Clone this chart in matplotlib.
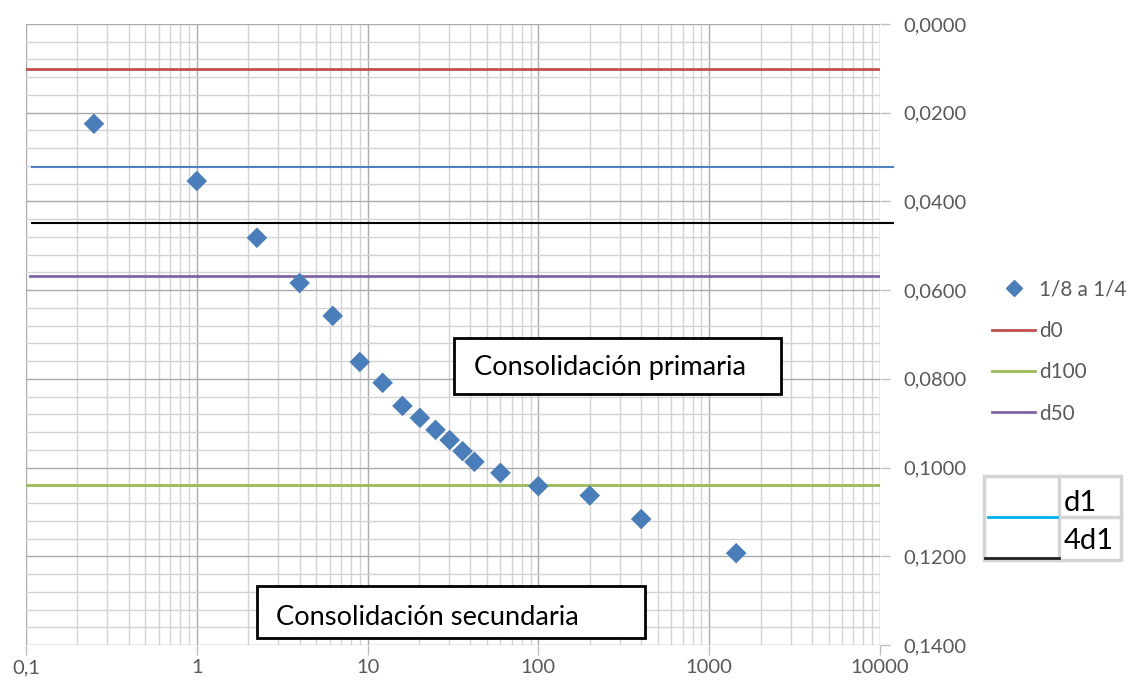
import matplotlib.pyplot as plt
from matplotlib.lines import Line2D
from matplotlib.patches import Rectangle
from matplotlib.ticker import FixedLocator, FuncFormatter, LogLocator, MultipleLocator, NullFormatter

plt.rcParams['font.family'] = ['Lato', 'DejaVu Sans']

# Lectura de deformación vs. tiempo (escala log)
tiempo = [0.25, 1, 2.25, 4, 6.25, 9, 12.25, 16, 20.25, 25, 30.25, 36, 42.25,
          60, 100, 200, 400, 1440]
deformacion = [0.0225, 0.0354, 0.0482, 0.0584, 0.0658, 0.0762, 0.0809, 0.0861,
               0.0888, 0.0915, 0.0938, 0.0963, 0.0987, 0.1012, 0.1042, 0.1063,
               0.1116, 0.1193]

# Lecturas de referencia
d0 = 0.0101
d1 = 0.0322
d4d1 = 0.0449
d50 = 0.0568
d100 = 0.1039

x_ticks = [0.1, 1, 10, 100, 1000, 10000]
x_labels = ['0,1', '1', '10', '100', '1000', '10000']

fig = plt.figure(figsize=(11.31, 6.85), dpi=100)
ax = fig.add_axes([0.023, 0.0584, 0.755, 0.9066])

ax.set_xscale('log')
ax.set_xlim(0.1, 10000)
ax.set_ylim(0.14, 0.0)

ax.xaxis.set_major_locator(FixedLocator(x_ticks))
ax.xaxis.set_major_formatter(FuncFormatter(lambda v, p: x_labels[x_ticks.index(v)] if v in x_ticks else ''))
ax.xaxis.set_minor_locator(LogLocator(base=10, subs=range(2, 10), numticks=20))
ax.xaxis.set_minor_formatter(NullFormatter())

ax.yaxis.set_major_locator(MultipleLocator(0.02))
ax.yaxis.set_minor_locator(MultipleLocator(0.004))
ax.yaxis.set_major_formatter(FuncFormatter(lambda v, p: f'{v:.4f}'.replace('.', ',')))
ax.yaxis.tick_right()

ax.grid(which='major', color='#ababab', linewidth=1.0)
ax.grid(which='minor', color='#d3d3d3', linewidth=1.0)
ax.set_axisbelow(True)

for s in ax.spines.values():
    s.set_visible(False)

ax.tick_params(axis='both', which='major', colors='#bfbfbf', labelcolor='#595959',
               labelsize=14.5, length=7, width=1)
ax.tick_params(axis='both', which='minor', length=0)
ax.tick_params(axis='y', pad=10)
ax.tick_params(axis='x', pad=3)

# Lineas de referencia
ax.axhline(d0, color='#c0504d', linewidth=2, label='d0')
ax.axhline(d100, color='#9bbb59', linewidth=2, label='d100')
ax.axhline(d50, color='#8064a2', linewidth=2, xmin=0.005, label='d50')
ax.axhline(d1, color='#4f81bd', linewidth=1.5, xmin=0.007, xmax=1.015, clip_on=False)
ax.axhline(d4d1, color='black', linewidth=1.5, xmin=0.007, xmax=1.015, clip_on=False)

ax.scatter(tiempo, deformacion, marker='D', s=110, color='#4a7ebb', zorder=5,
           edgecolors='none', label='1/8 a 1/4')

# Cuadros de texto (x en fracción del eje, y en datos)
trans = ax.get_yaxis_transform()
ax.add_patch(Rectangle((0.5012, 0.07079), 0.3829, 0.01262, transform=trans,
                       facecolor='white', edgecolor='black', linewidth=2, zorder=6))
ax.text(0.5246, 0.07913, 'Consolidación primaria', fontsize=19.6, color='black',
        va='baseline', ha='left', zorder=7, transform=trans)
ax.add_patch(Rectangle((0.2705, 0.1267), 0.4543, 0.01172, transform=trans,
                       facecolor='white', edgecolor='black', linewidth=2, zorder=6))
ax.text(0.2927, 0.13549, 'Consolidación secundaria', fontsize=19.6, color='black',
        va='baseline', ha='left', zorder=7, transform=trans)

# Leyenda
handles = [
    Line2D([], [], marker='D', linestyle='none', color='#4a7ebb', markersize=8),
    Line2D([], [], color='#c0504d', linewidth=2),
    Line2D([], [], color='#9bbb59', linewidth=2),
    Line2D([], [], color='#8064a2', linewidth=2),
]
fig.legend(handles, ['1/8 a 1/4', 'd0', 'd100', 'd50'], loc='upper left',
           bbox_to_anchor=(0.8605, 0.619), frameon=False, fontsize=14.9,
           labelcolor='#595959', handlelength=2.1, handletextpad=0.2,
           labelspacing=1.03)

# Tabla d1 / 4d1
W, H = 1131, 685
def fx(px):
    return px / W
def fy(py):
    return 1 - py / H

fig.patches.append(Rectangle((fx(984), fy(560)), fx(137), 84 / H, transform=fig.transFigure,
                             facecolor='white', edgecolor='#d4d4d4', linewidth=2.5))
fig.add_artist(Line2D([fx(1059), fx(1059)], [fy(560), fy(476)], color='#d4d4d4', linewidth=2.5))
fig.add_artist(Line2D([fx(1059), fx(1121)], [fy(517), fy(517)], color='#d4d4d4', linewidth=2.5))
fig.add_artist(Line2D([fx(988), fx(1057)], [fy(517), fy(517)], color='#00b0f0', linewidth=2))
fig.add_artist(Line2D([fx(985), fx(1059)], [fy(558), fy(558)], color='#222222', linewidth=2))
fig.text(fx(1064), fy(511), 'd1', fontsize=21, color='black', va='baseline', ha='left')
fig.text(fx(1064), fy(549), '4d1', fontsize=21, color='black', va='baseline', ha='left')

fig.savefig('out.png', dpi=100)
